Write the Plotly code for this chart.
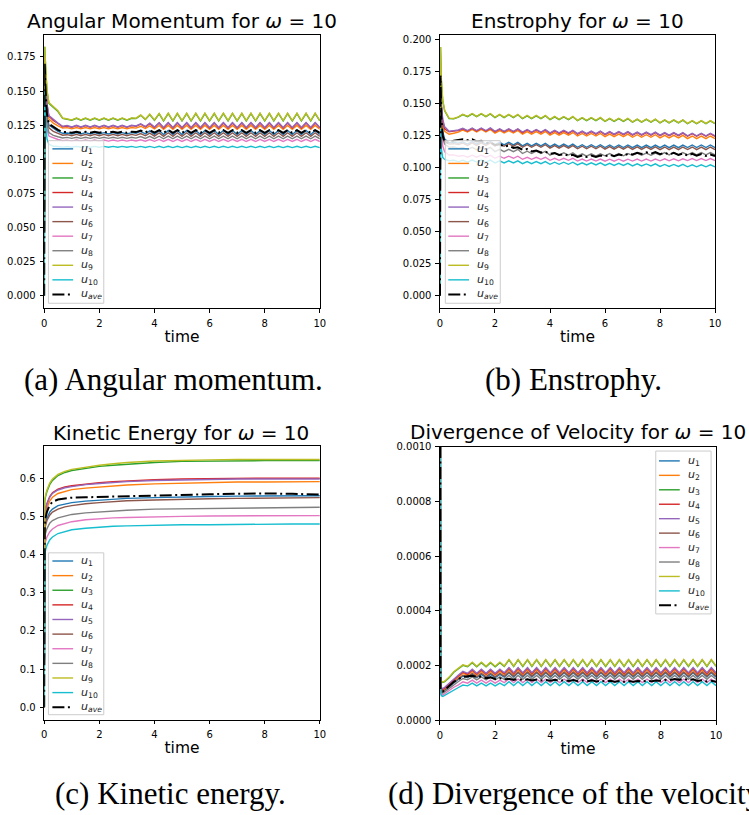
import plotly.graph_objects as go

# ---------------- data ----------------
TIME = [0, 0.02, 0.05, 0.1, 0.17, 0.33, 0.5, 0.67, 0.83, 1.0,
        1.17, 1.33, 1.5, 1.67, 1.83, 2.0, 2.17, 2.33, 2.5, 2.67,
        2.83, 3.0, 3.17, 3.33, 3.5, 3.67, 3.83, 4.0, 4.17, 4.33,
        4.5, 4.67, 4.83, 5.0, 5.17, 5.33, 5.5, 5.67, 5.83, 6.0,
        6.17, 6.33, 6.5, 6.67, 6.83, 7.0, 7.17, 7.33, 7.5, 7.67,
        7.83, 8.0, 8.17, 8.33, 8.5, 8.67, 8.83, 9.0, 9.17, 9.33,
        9.5, 9.67, 9.83, 10.0]

TIME_C = [0, 0.02, 0.05, 0.1, 0.2, 0.3, 0.5, 0.75, 1.0, 1.5, 2.0, 2.5, 3.0,
          4.0, 5.0, 6.0, 7.0, 8.0, 9.0, 10.0]

# (a) angular momentum
A_U1 = [0, 0.168, 0.150, 0.132, 0.125, 0.1225, 0.1205, 0.1190, 0.1192,
        0.1185, 0.1195, 0.1185, 0.1195, 0.1185, 0.1195, 0.1185, 0.1195, 0.1185, 0.1195, 0.1185, 0.1195, 0.1185, 0.1195,
        0.1190, 0.1204, 0.1186, 0.1208, 0.1183, 0.1210,
        0.1181, 0.1211, 0.1181, 0.1211, 0.1181, 0.1211, 0.1181, 0.1211, 0.1181, 0.1211, 0.1181, 0.1211, 0.1181, 0.1211, 0.1181, 0.1211, 0.1181, 0.1211,
        0.1181, 0.1211, 0.1181, 0.1211, 0.1181, 0.1211, 0.1181, 0.1211, 0.1181, 0.1211, 0.1181, 0.1211, 0.1181, 0.1211, 0.1181, 0.1211, 0.1181]
A_U2 = [0, 0.172, 0.155, 0.137, 0.1295, 0.1265, 0.1245, 0.1228, 0.1232,
        0.1223, 0.1233, 0.1223, 0.1233, 0.1223, 0.1233, 0.1223, 0.1233, 0.1223, 0.1233, 0.1223, 0.1233, 0.1223, 0.1233,
        0.1228, 0.1242, 0.1225, 0.1245, 0.1222, 0.1247,
        0.1220, 0.1248, 0.1220, 0.1248, 0.1220, 0.1248, 0.1220, 0.1248, 0.1220, 0.1248, 0.1220, 0.1248, 0.1220, 0.1248, 0.1220, 0.1248, 0.1220, 0.1248,
        0.1220, 0.1248, 0.1220, 0.1248, 0.1220, 0.1248, 0.1220, 0.1248, 0.1220, 0.1248, 0.1220, 0.1248, 0.1220, 0.1248, 0.1220, 0.1248, 0.1220]
A_U3 = [0, 0.1825, 0.168, 0.150, 0.141, 0.138, 0.135, 0.130, 0.1292,
        0.1286, 0.1300, 0.1286, 0.1300, 0.1286, 0.1300, 0.1286, 0.1300, 0.1286, 0.1300, 0.1286, 0.1300, 0.1286, 0.1300,
        0.1298, 0.1322, 0.1291, 0.1328, 0.1285, 0.1333,
        0.1281, 0.1335, 0.1281, 0.1335, 0.1281, 0.1335, 0.1281, 0.1335, 0.1281, 0.1335, 0.1281, 0.1335, 0.1281, 0.1335, 0.1281, 0.1335, 0.1281, 0.1335,
        0.1281, 0.1335, 0.1281, 0.1335, 0.1281, 0.1335, 0.1281, 0.1335, 0.1281, 0.1335, 0.1281, 0.1335, 0.1281, 0.1335, 0.1281, 0.1335, 0.1281]
A_U4 = [0, 0.175, 0.158, 0.140, 0.1315, 0.1285, 0.1262, 0.1238, 0.1244,
        0.1234, 0.1246, 0.1234, 0.1246, 0.1234, 0.1246, 0.1234, 0.1246, 0.1234, 0.1246, 0.1234, 0.1246, 0.1234, 0.1246,
        0.1241, 0.1257, 0.1237, 0.1261, 0.1233, 0.1265,
        0.1230, 0.1266, 0.1230, 0.1266, 0.1230, 0.1266, 0.1230, 0.1266, 0.1230, 0.1266, 0.1230, 0.1266, 0.1230, 0.1266, 0.1230, 0.1266, 0.1230, 0.1266,
        0.1230, 0.1266, 0.1230, 0.1266, 0.1230, 0.1266, 0.1230, 0.1266, 0.1230, 0.1266, 0.1230, 0.1266, 0.1230, 0.1266, 0.1230, 0.1266, 0.1230]
A_U5 = [0, 0.176, 0.159, 0.141, 0.132, 0.129, 0.1265, 0.1241, 0.1247,
        0.1237, 0.1249, 0.1237, 0.1249, 0.1237, 0.1249, 0.1237, 0.1249, 0.1237, 0.1249, 0.1237, 0.1249, 0.1237, 0.1249,
        0.1244, 0.1260, 0.1240, 0.1264, 0.1236, 0.1268,
        0.1233, 0.1269, 0.1233, 0.1269, 0.1233, 0.1269, 0.1233, 0.1269, 0.1233, 0.1269, 0.1233, 0.1269, 0.1233, 0.1269, 0.1233, 0.1269, 0.1233, 0.1269,
        0.1233, 0.1269, 0.1233, 0.1269, 0.1233, 0.1269, 0.1233, 0.1269, 0.1233, 0.1269, 0.1233, 0.1269, 0.1233, 0.1269, 0.1233, 0.1269, 0.1233]
A_U6 = [0, 0.165, 0.147, 0.130, 0.123, 0.1205, 0.1190, 0.1176, 0.1180,
        0.1172, 0.1182, 0.1172, 0.1182, 0.1172, 0.1182, 0.1172, 0.1182, 0.1172, 0.1182, 0.1172, 0.1182, 0.1172, 0.1182,
        0.1175, 0.1188, 0.1172, 0.1191, 0.1170, 0.1193,
        0.1168, 0.1194, 0.1168, 0.1194, 0.1168, 0.1194, 0.1168, 0.1194, 0.1168, 0.1194, 0.1168, 0.1194, 0.1168, 0.1194, 0.1168, 0.1194, 0.1168, 0.1194,
        0.1168, 0.1194, 0.1168, 0.1194, 0.1168, 0.1194, 0.1168, 0.1194, 0.1168, 0.1194, 0.1168, 0.1194, 0.1168, 0.1194, 0.1168, 0.1194, 0.1168]
A_U7 = [0, 0.158, 0.138, 0.122, 0.117, 0.1155, 0.1145, 0.1136, 0.1140,
        0.1133, 0.1141, 0.1133, 0.1141, 0.1133, 0.1141, 0.1133, 0.1141, 0.1133, 0.1141, 0.1133, 0.1141, 0.1133, 0.1141,
        0.1134, 0.1143, 0.1132, 0.1144, 0.1131, 0.1145,
        0.1130, 0.1146, 0.1130, 0.1146, 0.1130, 0.1146, 0.1130, 0.1146, 0.1130, 0.1146, 0.1130, 0.1146, 0.1130, 0.1146, 0.1130, 0.1146, 0.1130, 0.1146,
        0.1130, 0.1146, 0.1130, 0.1146, 0.1130, 0.1146, 0.1130, 0.1146, 0.1130, 0.1146, 0.1130, 0.1146, 0.1130, 0.1146, 0.1130, 0.1146, 0.1130]
A_U8 = [0, 0.162, 0.143, 0.126, 0.1195, 0.1175, 0.1165, 0.1156, 0.1160,
        0.1153, 0.1161, 0.1153, 0.1161, 0.1153, 0.1161, 0.1153, 0.1161, 0.1153, 0.1161, 0.1153, 0.1161, 0.1153, 0.1161,
        0.1155, 0.1166, 0.1153, 0.1168, 0.1151, 0.1169,
        0.1150, 0.1170, 0.1150, 0.1170, 0.1150, 0.1170, 0.1150, 0.1170, 0.1150, 0.1170, 0.1150, 0.1170, 0.1150, 0.1170, 0.1150, 0.1170, 0.1150, 0.1170,
        0.1150, 0.1170, 0.1150, 0.1170, 0.1150, 0.1170, 0.1150, 0.1170, 0.1150, 0.1170, 0.1150, 0.1170, 0.1150, 0.1170, 0.1150, 0.1170, 0.1150]
A_U9 = [0, 0.1825, 0.169, 0.151, 0.1415, 0.1385, 0.1355, 0.1302, 0.1295,
        0.1289, 0.1303, 0.1289, 0.1303, 0.1289, 0.1303, 0.1289, 0.1303, 0.1289, 0.1303, 0.1289, 0.1303, 0.1289, 0.1303,
        0.1301, 0.1325, 0.1294, 0.1331, 0.1288, 0.1336,
        0.1284, 0.1338, 0.1284, 0.1338, 0.1284, 0.1338, 0.1284, 0.1338, 0.1284, 0.1338, 0.1284, 0.1338, 0.1284, 0.1338, 0.1284, 0.1338, 0.1284, 0.1338,
        0.1284, 0.1338, 0.1284, 0.1338, 0.1284, 0.1338, 0.1284, 0.1338, 0.1284, 0.1338, 0.1284, 0.1338, 0.1284, 0.1338, 0.1284, 0.1338, 0.1284]
A_U10 = [0, 0.150, 0.128, 0.115, 0.111, 0.1095, 0.1093, 0.1089, 0.1093,
         0.1088, 0.1094, 0.1088, 0.1094, 0.1088, 0.1094, 0.1088, 0.1094, 0.1088, 0.1094, 0.1088, 0.1094, 0.1088, 0.1094,
         0.1087, 0.1094, 0.1086, 0.1094, 0.1085, 0.1095,
         0.1085, 0.1095, 0.1085, 0.1095, 0.1085, 0.1095, 0.1085, 0.1095, 0.1085, 0.1095, 0.1085, 0.1095, 0.1085, 0.1095, 0.1085, 0.1095, 0.1085, 0.1095,
         0.1085, 0.1095, 0.1085, 0.1095, 0.1085, 0.1095, 0.1085, 0.1095, 0.1085, 0.1095, 0.1085, 0.1095, 0.1085, 0.1095, 0.1085, 0.1095, 0.1085]
A_AVE = [0, 0.170, 0.150, 0.133, 0.126, 0.1235, 0.1215, 0.1200, 0.1200,
         0.1194, 0.1202, 0.1194, 0.1202, 0.1194, 0.1202, 0.1194, 0.1202, 0.1194, 0.1202, 0.1194, 0.1202, 0.1194, 0.1202,
         0.1199, 0.1210, 0.1197, 0.1212, 0.1195, 0.1213,
         0.1194, 0.1214, 0.1194, 0.1214, 0.1194, 0.1214, 0.1194, 0.1214, 0.1194, 0.1214, 0.1194, 0.1214, 0.1194, 0.1214, 0.1194, 0.1214, 0.1194, 0.1214,
         0.1194, 0.1214, 0.1194, 0.1214, 0.1194, 0.1214, 0.1194, 0.1214, 0.1194, 0.1214, 0.1194, 0.1214, 0.1194, 0.1214, 0.1194, 0.1214, 0.1194]

# (b) enstrophy
B_U1 = [0, 0.165, 0.140, 0.128, 0.1225, 0.1195, 0.1198, 0.1192, 0.1202,
        0.1185, 0.1205, 0.1185, 0.1205, 0.1185, 0.1205,
        0.1178, 0.1198, 0.1178, 0.1198, 0.1178, 0.1198,
        0.1171, 0.1191, 0.1171, 0.1191, 0.1171, 0.1191,
        0.1165, 0.1185, 0.1165, 0.1185, 0.1165, 0.1185,
        0.1160, 0.1180, 0.1160, 0.1180, 0.1160, 0.1180,
        0.1158, 0.1178, 0.1158, 0.1178, 0.1158, 0.1178,
        0.1157, 0.1177, 0.1157, 0.1177, 0.1157, 0.1177,
        0.1157, 0.1177, 0.1157, 0.1177, 0.1157, 0.1177,
        0.1158, 0.1178, 0.1158, 0.1178, 0.1158, 0.1178, 0.1158]
B_U2 = [0, 0.170, 0.146, 0.134, 0.1285, 0.1262, 0.1270, 0.1278, 0.1295,
        0.1279, 0.1299, 0.1279, 0.1299, 0.1279, 0.1299,
        0.1271, 0.1291, 0.1271, 0.1291, 0.1271, 0.1291,
        0.1263, 0.1283, 0.1263, 0.1283, 0.1263, 0.1283,
        0.1255, 0.1275, 0.1255, 0.1275, 0.1255, 0.1275,
        0.1248, 0.1268, 0.1248, 0.1268, 0.1248, 0.1268,
        0.1243, 0.1263, 0.1243, 0.1263, 0.1243, 0.1263,
        0.1238, 0.1258, 0.1238, 0.1258, 0.1238, 0.1258,
        0.1233, 0.1253, 0.1233, 0.1253, 0.1233, 0.1253,
        0.1228, 0.1248, 0.1228, 0.1248, 0.1228, 0.1248, 0.1228]
B_U3 = [0, 0.1943, 0.168, 0.152, 0.1445, 0.1385, 0.1382, 0.1395, 0.1415,
        0.1399, 0.1421, 0.1399, 0.1421, 0.1399, 0.1421,
        0.1392, 0.1414, 0.1392, 0.1414, 0.1392, 0.1414,
        0.1384, 0.1406, 0.1384, 0.1406, 0.1384, 0.1406,
        0.1376, 0.1398, 0.1376, 0.1398, 0.1376, 0.1398,
        0.1368, 0.1390, 0.1368, 0.1390, 0.1368, 0.1390,
        0.1362, 0.1384, 0.1362, 0.1384, 0.1362, 0.1384,
        0.1356, 0.1378, 0.1356, 0.1378, 0.1356, 0.1378,
        0.1350, 0.1372, 0.1350, 0.1372, 0.1350, 0.1372,
        0.1344, 0.1366, 0.1344, 0.1366, 0.1344, 0.1366, 0.1344]
B_U4 = [0, 0.173, 0.148, 0.136, 0.1305, 0.1281, 0.1286, 0.1291, 0.1304,
        0.1287, 0.1307, 0.1287, 0.1307, 0.1287, 0.1307,
        0.1281, 0.1301, 0.1281, 0.1301, 0.1281, 0.1301,
        0.1275, 0.1295, 0.1275, 0.1295, 0.1275, 0.1295,
        0.1269, 0.1289, 0.1269, 0.1289, 0.1269, 0.1289,
        0.1263, 0.1283, 0.1263, 0.1283, 0.1263, 0.1283,
        0.1259, 0.1279, 0.1259, 0.1279, 0.1259, 0.1279,
        0.1255, 0.1275, 0.1255, 0.1275, 0.1255, 0.1275,
        0.1251, 0.1271, 0.1251, 0.1271, 0.1251, 0.1271,
        0.1246, 0.1266, 0.1246, 0.1266, 0.1246, 0.1266, 0.1246]
B_U5 = [0, 0.175, 0.150, 0.138, 0.132, 0.1285, 0.1290, 0.1295, 0.1308,
        0.1291, 0.1311, 0.1291, 0.1311, 0.1291, 0.1311,
        0.1285, 0.1305, 0.1285, 0.1305, 0.1285, 0.1305,
        0.1279, 0.1299, 0.1279, 0.1299, 0.1279, 0.1299,
        0.1273, 0.1293, 0.1273, 0.1293, 0.1273, 0.1293,
        0.1267, 0.1287, 0.1267, 0.1287, 0.1267, 0.1287,
        0.1263, 0.1283, 0.1263, 0.1283, 0.1263, 0.1283,
        0.1259, 0.1279, 0.1259, 0.1279, 0.1259, 0.1279,
        0.1255, 0.1275, 0.1255, 0.1275, 0.1255, 0.1275,
        0.1250, 0.1270, 0.1250, 0.1270, 0.1250, 0.1270, 0.1250]
B_U6 = [0, 0.162, 0.138, 0.126, 0.1210, 0.1185, 0.1188, 0.1182, 0.1192,
        0.1175, 0.1195, 0.1175, 0.1195, 0.1175, 0.1195,
        0.1168, 0.1188, 0.1168, 0.1188, 0.1168, 0.1188,
        0.1160, 0.1180, 0.1160, 0.1180, 0.1160, 0.1180,
        0.1153, 0.1173, 0.1153, 0.1173, 0.1153, 0.1173,
        0.1148, 0.1168, 0.1148, 0.1168, 0.1148, 0.1168,
        0.1145, 0.1165, 0.1145, 0.1165, 0.1145, 0.1165,
        0.1143, 0.1163, 0.1143, 0.1163, 0.1143, 0.1163,
        0.1142, 0.1162, 0.1142, 0.1162, 0.1142, 0.1162,
        0.1142, 0.1162, 0.1142, 0.1162, 0.1142, 0.1162, 0.1142]
B_U7 = [0, 0.150, 0.128, 0.117, 0.1125, 0.1100, 0.1100, 0.1090, 0.1096,
        0.1082, 0.1098, 0.1082, 0.1098, 0.1082, 0.1098,
        0.1074, 0.1090, 0.1074, 0.1090, 0.1074, 0.1090,
        0.1066, 0.1082, 0.1066, 0.1082, 0.1066, 0.1082,
        0.1058, 0.1074, 0.1058, 0.1074, 0.1058, 0.1074,
        0.1052, 0.1068, 0.1052, 0.1068, 0.1052, 0.1068,
        0.1051, 0.1067, 0.1051, 0.1067, 0.1051, 0.1067,
        0.1052, 0.1068, 0.1052, 0.1068, 0.1052, 0.1068,
        0.1054, 0.1070, 0.1054, 0.1070, 0.1054, 0.1070,
        0.1056, 0.1072, 0.1056, 0.1072, 0.1056, 0.1072, 0.1056]
B_U8 = [0, 0.158, 0.134, 0.123, 0.1185, 0.1160, 0.1162, 0.1152, 0.1158,
        0.1141, 0.1159, 0.1141, 0.1159, 0.1141, 0.1159,
        0.1126, 0.1144, 0.1126, 0.1144, 0.1126, 0.1144,
        0.1111, 0.1129, 0.1111, 0.1129, 0.1111, 0.1129,
        0.1099, 0.1117, 0.1099, 0.1117, 0.1099, 0.1117,
        0.1091, 0.1109, 0.1091, 0.1109, 0.1091, 0.1109,
        0.1093, 0.1111, 0.1093, 0.1111, 0.1093, 0.1111,
        0.1097, 0.1115, 0.1097, 0.1115, 0.1097, 0.1115,
        0.1100, 0.1118, 0.1100, 0.1118, 0.1100, 0.1118,
        0.1101, 0.1119, 0.1101, 0.1119, 0.1101, 0.1119, 0.1101]
B_U9 = [0, 0.1943, 0.169, 0.153, 0.1448, 0.1388, 0.1385, 0.1398, 0.1418,
        0.1402, 0.1424, 0.1402, 0.1424, 0.1402, 0.1424,
        0.1395, 0.1417, 0.1395, 0.1417, 0.1395, 0.1417,
        0.1387, 0.1409, 0.1387, 0.1409, 0.1387, 0.1409,
        0.1379, 0.1401, 0.1379, 0.1401, 0.1379, 0.1401,
        0.1371, 0.1393, 0.1371, 0.1393, 0.1371, 0.1393,
        0.1365, 0.1387, 0.1365, 0.1387, 0.1365, 0.1387,
        0.1359, 0.1381, 0.1359, 0.1381, 0.1359, 0.1381,
        0.1353, 0.1375, 0.1353, 0.1375, 0.1353, 0.1375,
        0.1347, 0.1369, 0.1347, 0.1369, 0.1347, 0.1369, 0.1347]
B_U10 = [0, 0.130, 0.115, 0.108, 0.1065, 0.1055, 0.1058, 0.1048, 0.1058,
         0.1044, 0.1060, 0.1044, 0.1060, 0.1044, 0.1060,
         0.1038, 0.1054, 0.1038, 0.1054, 0.1038, 0.1054,
         0.1032, 0.1048, 0.1032, 0.1048, 0.1032, 0.1048,
         0.1027, 0.1043, 0.1027, 0.1043, 0.1027, 0.1043,
         0.1022, 0.1038, 0.1022, 0.1038, 0.1022, 0.1038,
         0.1018, 0.1034, 0.1018, 0.1034, 0.1018, 0.1034,
         0.1014, 0.1030, 0.1014, 0.1030, 0.1014, 0.1030,
         0.1010, 0.1026, 0.1010, 0.1026, 0.1010, 0.1026,
         0.1007, 0.1023, 0.1007, 0.1023, 0.1007, 0.1023, 0.1007]
B_AVE = [0, 0.172, 0.140, 0.125, 0.1200, 0.1195, 0.1212, 0.1220, 0.1222,
         0.1215, 0.1222, 0.1205, 0.1210, 0.1192, 0.1198,
         0.1178, 0.1184, 0.1166, 0.1172, 0.1155, 0.1160,
         0.1140, 0.1146, 0.1128, 0.1134, 0.1120, 0.1126,
         0.1108, 0.1114, 0.1100, 0.1106, 0.1095, 0.1101,
         0.1084, 0.1096, 0.1084, 0.1096, 0.1084, 0.1096,
         0.1089, 0.1101, 0.1091, 0.1103, 0.1095, 0.1107,
         0.1104, 0.1116, 0.1108, 0.1120, 0.1110, 0.1122,
         0.1106, 0.1118, 0.1104, 0.1116, 0.1100, 0.1112,
         0.1096, 0.1108, 0.1094, 0.1106, 0.1092, 0.1104, 0.1092]

# (c) kinetic energy
C_U1 = [0, 0.470, 0.482, 0.495, 0.511, 0.519, 0.528, 0.533, 0.536, 0.540, 0.543, 0.545, 0.547, 0.549, 0.551, 0.552, 0.553, 0.553, 0.554, 0.554]
C_U2 = [0, 0.495, 0.508, 0.522, 0.540, 0.550, 0.560, 0.566, 0.570, 0.574, 0.577, 0.580, 0.582, 0.585, 0.587, 0.589, 0.590, 0.590, 0.591, 0.591]
C_U3 = [0, 0.540, 0.552, 0.565, 0.583, 0.594, 0.607, 0.615, 0.620, 0.626, 0.631, 0.634, 0.637, 0.641, 0.644, 0.645, 0.646, 0.646, 0.646, 0.646]
C_U4 = [0, 0.507, 0.520, 0.534, 0.552, 0.562, 0.571, 0.577, 0.580, 0.585, 0.588, 0.591, 0.593, 0.596, 0.598, 0.599, 0.600, 0.600, 0.600, 0.600]
C_U5 = [0, 0.505, 0.518, 0.532, 0.550, 0.560, 0.569, 0.575, 0.578, 0.583, 0.586, 0.589, 0.591, 0.594, 0.596, 0.597, 0.598, 0.598, 0.598, 0.598]
C_U6 = [0, 0.465, 0.476, 0.489, 0.503, 0.511, 0.519, 0.525, 0.528, 0.533, 0.536, 0.539, 0.541, 0.543, 0.545, 0.546, 0.547, 0.548, 0.548, 0.549]
C_U7 = [0, 0.425, 0.435, 0.446, 0.459, 0.467, 0.476, 0.482, 0.486, 0.491, 0.494, 0.496, 0.497, 0.499, 0.500, 0.501, 0.501, 0.502, 0.502, 0.502]
C_U8 = [0, 0.445, 0.456, 0.468, 0.482, 0.489, 0.496, 0.501, 0.505, 0.509, 0.512, 0.514, 0.516, 0.519, 0.520, 0.521, 0.522, 0.523, 0.523, 0.524]
C_U9 = [0, 0.545, 0.556, 0.569, 0.587, 0.598, 0.610, 0.618, 0.623, 0.629, 0.634, 0.638, 0.641, 0.645, 0.647, 0.648, 0.649, 0.649, 0.649, 0.649]
C_U10 = [0, 0.400, 0.412, 0.424, 0.438, 0.446, 0.455, 0.461, 0.465, 0.469, 0.472, 0.474, 0.475, 0.477, 0.478, 0.478, 0.479, 0.479, 0.480, 0.480]
C_AVE = [0, 0.480, 0.496, 0.512, 0.530, 0.538, 0.544, 0.547, 0.549, 0.550, 0.551, 0.552, 0.553, 0.555, 0.557, 0.558, 0.559, 0.560, 0.559, 0.557]

# (d) divergence of velocity
D_U1 = [3e-3, 1.18e-4, 1.06e-4, 1.03e-4, 1.08e-4, 1.22e-4, 1.37e-4, 1.49e-4, 1.61e-4,
        1.55e-4, 1.67e-4, 1.55e-4, 1.67e-4, 1.55e-4, 1.67e-4, 1.55e-4, 1.67e-4,
        1.57e-4, 1.73e-4, 1.57e-4, 1.73e-4, 1.57e-4, 1.73e-4, 1.57e-4, 1.73e-4, 1.57e-4, 1.73e-4, 1.57e-4, 1.73e-4,
        1.57e-4, 1.73e-4, 1.57e-4, 1.73e-4, 1.57e-4, 1.73e-4, 1.57e-4, 1.73e-4, 1.57e-4, 1.73e-4, 1.57e-4, 1.73e-4,
        1.57e-4, 1.73e-4, 1.57e-4, 1.73e-4, 1.57e-4, 1.73e-4, 1.57e-4, 1.73e-4, 1.57e-4, 1.73e-4, 1.57e-4, 1.73e-4,
        1.57e-4, 1.73e-4, 1.57e-4, 1.73e-4, 1.57e-4, 1.73e-4, 1.57e-4, 1.73e-4, 1.57e-4, 1.73e-4, 1.57e-4]
D_U2 = [3e-3, 1.24e-4, 1.12e-4, 1.09e-4, 1.14e-4, 1.29e-4, 1.45e-4, 1.58e-4, 1.71e-4,
        1.64e-4, 1.78e-4, 1.64e-4, 1.78e-4, 1.64e-4, 1.78e-4, 1.64e-4, 1.78e-4,
        1.66e-4, 1.84e-4, 1.66e-4, 1.84e-4, 1.66e-4, 1.84e-4, 1.66e-4, 1.84e-4, 1.66e-4, 1.84e-4, 1.66e-4, 1.84e-4,
        1.66e-4, 1.84e-4, 1.66e-4, 1.84e-4, 1.66e-4, 1.84e-4, 1.66e-4, 1.84e-4, 1.66e-4, 1.84e-4, 1.66e-4, 1.84e-4,
        1.66e-4, 1.84e-4, 1.66e-4, 1.84e-4, 1.66e-4, 1.84e-4, 1.66e-4, 1.84e-4, 1.66e-4, 1.84e-4, 1.66e-4, 1.84e-4,
        1.66e-4, 1.84e-4, 1.66e-4, 1.84e-4, 1.66e-4, 1.84e-4, 1.66e-4, 1.84e-4, 1.66e-4, 1.84e-4, 1.66e-4]
D_U3 = [3e-3, 1.50e-4, 1.40e-4, 1.37e-4, 1.40e-4, 1.55e-4, 1.75e-4, 1.88e-4, 2.00e-4,
        1.95e-4, 2.10e-4, 1.95e-4, 2.10e-4, 1.95e-4, 2.10e-4, 1.95e-4, 2.10e-4,
        1.96e-4, 2.20e-4, 1.96e-4, 2.20e-4, 1.96e-4, 2.20e-4, 1.96e-4, 2.20e-4, 1.96e-4, 2.20e-4, 1.96e-4, 2.20e-4,
        1.96e-4, 2.20e-4, 1.96e-4, 2.20e-4, 1.96e-4, 2.20e-4, 1.96e-4, 2.20e-4, 1.96e-4, 2.20e-4, 1.96e-4, 2.20e-4,
        1.96e-4, 2.20e-4, 1.96e-4, 2.20e-4, 1.96e-4, 2.20e-4, 1.96e-4, 2.20e-4, 1.96e-4, 2.20e-4, 1.96e-4, 2.20e-4,
        1.96e-4, 2.20e-4, 1.96e-4, 2.20e-4, 1.96e-4, 2.20e-4, 1.96e-4, 2.20e-4, 1.96e-4, 2.20e-4, 1.96e-4]
D_U4 = [3e-3, 1.27e-4, 1.15e-4, 1.12e-4, 1.17e-4, 1.32e-4, 1.49e-4, 1.62e-4, 1.75e-4,
        1.68e-4, 1.83e-4, 1.68e-4, 1.83e-4, 1.68e-4, 1.83e-4, 1.68e-4, 1.83e-4,
        1.70e-4, 1.89e-4, 1.70e-4, 1.89e-4, 1.70e-4, 1.89e-4, 1.70e-4, 1.89e-4, 1.70e-4, 1.89e-4, 1.70e-4, 1.89e-4,
        1.70e-4, 1.89e-4, 1.70e-4, 1.89e-4, 1.70e-4, 1.89e-4, 1.70e-4, 1.89e-4, 1.70e-4, 1.89e-4, 1.70e-4, 1.89e-4,
        1.70e-4, 1.89e-4, 1.70e-4, 1.89e-4, 1.70e-4, 1.89e-4, 1.70e-4, 1.89e-4, 1.70e-4, 1.89e-4, 1.70e-4, 1.89e-4,
        1.70e-4, 1.89e-4, 1.70e-4, 1.89e-4, 1.70e-4, 1.89e-4, 1.70e-4, 1.89e-4, 1.70e-4, 1.89e-4, 1.70e-4]
D_U5 = [3e-3, 1.30e-4, 1.18e-4, 1.15e-4, 1.20e-4, 1.35e-4, 1.52e-4, 1.65e-4, 1.78e-4,
        1.71e-4, 1.86e-4, 1.71e-4, 1.86e-4, 1.71e-4, 1.86e-4, 1.71e-4, 1.86e-4,
        1.73e-4, 1.92e-4, 1.73e-4, 1.92e-4, 1.73e-4, 1.92e-4, 1.73e-4, 1.92e-4, 1.73e-4, 1.92e-4, 1.73e-4, 1.92e-4,
        1.73e-4, 1.92e-4, 1.73e-4, 1.92e-4, 1.73e-4, 1.92e-4, 1.73e-4, 1.92e-4, 1.73e-4, 1.92e-4, 1.73e-4, 1.92e-4,
        1.73e-4, 1.92e-4, 1.73e-4, 1.92e-4, 1.73e-4, 1.92e-4, 1.73e-4, 1.92e-4, 1.73e-4, 1.92e-4, 1.73e-4, 1.92e-4,
        1.73e-4, 1.92e-4, 1.73e-4, 1.92e-4, 1.73e-4, 1.92e-4, 1.73e-4, 1.92e-4, 1.73e-4, 1.92e-4, 1.73e-4]
D_U6 = [3e-3, 1.20e-4, 1.08e-4, 1.05e-4, 1.10e-4, 1.24e-4, 1.40e-4, 1.52e-4, 1.64e-4,
        1.58e-4, 1.71e-4, 1.58e-4, 1.71e-4, 1.58e-4, 1.71e-4, 1.58e-4, 1.71e-4,
        1.60e-4, 1.76e-4, 1.60e-4, 1.76e-4, 1.60e-4, 1.76e-4, 1.60e-4, 1.76e-4, 1.60e-4, 1.76e-4, 1.60e-4, 1.76e-4,
        1.60e-4, 1.76e-4, 1.60e-4, 1.76e-4, 1.60e-4, 1.76e-4, 1.60e-4, 1.76e-4, 1.60e-4, 1.76e-4, 1.60e-4, 1.76e-4,
        1.60e-4, 1.76e-4, 1.60e-4, 1.76e-4, 1.60e-4, 1.76e-4, 1.60e-4, 1.76e-4, 1.60e-4, 1.76e-4, 1.60e-4, 1.76e-4,
        1.60e-4, 1.76e-4, 1.60e-4, 1.76e-4, 1.60e-4, 1.76e-4, 1.60e-4, 1.76e-4, 1.60e-4, 1.76e-4, 1.60e-4]
D_U7 = [3e-3, 1.04e-4, 0.94e-4, 0.91e-4, 0.96e-4, 1.08e-4, 1.20e-4, 1.29e-4, 1.40e-4,
        1.35e-4, 1.46e-4, 1.35e-4, 1.46e-4, 1.35e-4, 1.46e-4, 1.35e-4, 1.46e-4,
        1.37e-4, 1.50e-4, 1.37e-4, 1.50e-4, 1.37e-4, 1.50e-4, 1.37e-4, 1.50e-4, 1.37e-4, 1.50e-4, 1.37e-4, 1.50e-4,
        1.37e-4, 1.50e-4, 1.37e-4, 1.50e-4, 1.37e-4, 1.50e-4, 1.37e-4, 1.50e-4, 1.37e-4, 1.50e-4, 1.37e-4, 1.50e-4,
        1.37e-4, 1.50e-4, 1.37e-4, 1.50e-4, 1.37e-4, 1.50e-4, 1.37e-4, 1.50e-4, 1.37e-4, 1.50e-4, 1.37e-4, 1.50e-4,
        1.37e-4, 1.50e-4, 1.37e-4, 1.50e-4, 1.37e-4, 1.50e-4, 1.37e-4, 1.50e-4, 1.37e-4, 1.50e-4, 1.37e-4]
D_U8 = [3e-3, 1.12e-4, 1.01e-4, 0.98e-4, 1.03e-4, 1.16e-4, 1.30e-4, 1.41e-4, 1.52e-4,
        1.47e-4, 1.58e-4, 1.47e-4, 1.58e-4, 1.47e-4, 1.58e-4, 1.47e-4, 1.58e-4,
        1.49e-4, 1.63e-4, 1.49e-4, 1.63e-4, 1.49e-4, 1.63e-4, 1.49e-4, 1.63e-4, 1.49e-4, 1.63e-4, 1.49e-4, 1.63e-4,
        1.49e-4, 1.63e-4, 1.49e-4, 1.63e-4, 1.49e-4, 1.63e-4, 1.49e-4, 1.63e-4, 1.49e-4, 1.63e-4, 1.49e-4, 1.63e-4,
        1.49e-4, 1.63e-4, 1.49e-4, 1.63e-4, 1.49e-4, 1.63e-4, 1.49e-4, 1.63e-4, 1.49e-4, 1.63e-4, 1.49e-4, 1.63e-4,
        1.49e-4, 1.63e-4, 1.49e-4, 1.63e-4, 1.49e-4, 1.63e-4, 1.49e-4, 1.63e-4, 1.49e-4, 1.63e-4, 1.49e-4]
D_U9 = [3e-3, 1.52e-4, 1.42e-4, 1.39e-4, 1.42e-4, 1.57e-4, 1.77e-4, 1.90e-4, 2.02e-4,
        1.97e-4, 2.12e-4, 1.97e-4, 2.12e-4, 1.97e-4, 2.12e-4, 1.97e-4, 2.12e-4,
        1.98e-4, 2.22e-4, 1.98e-4, 2.22e-4, 1.98e-4, 2.22e-4, 1.98e-4, 2.22e-4, 1.98e-4, 2.22e-4, 1.98e-4, 2.22e-4,
        1.98e-4, 2.22e-4, 1.98e-4, 2.22e-4, 1.98e-4, 2.22e-4, 1.98e-4, 2.22e-4, 1.98e-4, 2.22e-4, 1.98e-4, 2.22e-4,
        1.98e-4, 2.22e-4, 1.98e-4, 2.22e-4, 1.98e-4, 2.22e-4, 1.98e-4, 2.22e-4, 1.98e-4, 2.22e-4, 1.98e-4, 2.22e-4,
        1.98e-4, 2.22e-4, 1.98e-4, 2.22e-4, 1.98e-4, 2.22e-4, 1.98e-4, 2.22e-4, 1.98e-4, 2.22e-4, 1.98e-4]
D_U10 = [3e-3, 0.98e-4, 0.89e-4, 0.86e-4, 0.90e-4, 1.00e-4, 1.11e-4, 1.19e-4, 1.28e-4,
         1.25e-4, 1.35e-4, 1.25e-4, 1.35e-4, 1.25e-4, 1.35e-4, 1.25e-4, 1.35e-4,
         1.26e-4, 1.40e-4, 1.26e-4, 1.40e-4, 1.26e-4, 1.40e-4, 1.26e-4, 1.40e-4, 1.26e-4, 1.40e-4, 1.26e-4, 1.40e-4,
         1.26e-4, 1.40e-4, 1.26e-4, 1.40e-4, 1.26e-4, 1.40e-4, 1.26e-4, 1.40e-4, 1.26e-4, 1.40e-4, 1.26e-4, 1.40e-4,
         1.26e-4, 1.40e-4, 1.26e-4, 1.40e-4, 1.26e-4, 1.40e-4, 1.26e-4, 1.40e-4, 1.26e-4, 1.40e-4, 1.26e-4, 1.40e-4,
         1.26e-4, 1.40e-4, 1.26e-4, 1.40e-4, 1.26e-4, 1.40e-4, 1.26e-4, 1.40e-4, 1.26e-4, 1.40e-4, 1.26e-4]
D_AVE = [3e-3, 1.12e-4, 1.05e-4, 1.04e-4, 1.10e-4, 1.25e-4, 1.40e-4, 1.50e-4, 1.58e-4,
         1.60e-4, 1.62e-4, 1.57e-4, 1.59e-4, 1.53e-4, 1.56e-4, 1.50e-4, 1.53e-4,
         1.48e-4, 1.51e-4, 1.47e-4, 1.50e-4, 1.46e-4, 1.49e-4, 1.45e-4, 1.48e-4, 1.45e-4, 1.47e-4, 1.44e-4, 1.47e-4,
         1.43e-4, 1.46e-4, 1.43e-4, 1.46e-4, 1.42e-4, 1.45e-4, 1.42e-4, 1.45e-4, 1.41e-4, 1.44e-4, 1.41e-4, 1.44e-4,
         1.40e-4, 1.43e-4, 1.40e-4, 1.43e-4, 1.40e-4, 1.43e-4, 1.41e-4, 1.44e-4, 1.42e-4, 1.45e-4, 1.44e-4, 1.47e-4,
         1.46e-4, 1.50e-4, 1.47e-4, 1.51e-4, 1.46e-4, 1.49e-4, 1.43e-4, 1.46e-4, 1.41e-4, 1.44e-4, 1.40e-4]

SERIES_LABELS = ['<i>u</i><sub>1</sub>', '<i>u</i><sub>2</sub>', '<i>u</i><sub>3</sub>',
                 '<i>u</i><sub>4</sub>', '<i>u</i><sub>5</sub>', '<i>u</i><sub>6</sub>',
                 '<i>u</i><sub>7</sub>', '<i>u</i><sub>8</sub>', '<i>u</i><sub>9</sub>',
                 '<i>u</i><sub>10</sub>', '<i>u</i><sub><i>ave</i></sub>']

X_TICKS = [0, 2, 4, 6, 8, 10]
A_YTICKS = [0, 0.025, 0.05, 0.075, 0.1, 0.125, 0.15, 0.175]
B_YTICKS = [0, 0.025, 0.05, 0.075, 0.1, 0.125, 0.15, 0.175, 0.2]
C_YTICKS = [0, 0.1, 0.2, 0.3, 0.4, 0.5, 0.6]
D_YTICKS = [0, 0.0002, 0.0004, 0.0006, 0.0008, 0.001]

TITLES = ['Angular Momentum for <i>ω</i> = 10', 'Enstrophy for <i>ω</i> = 10',
          'Kinetic Energy for <i>ω</i> = 10', 'Divergence of Velocity for <i>ω</i> = 10']
CAPTIONS = ['(a) Angular momentum.', '(b) Enstrophy.', '(c) Kinetic energy.',
            '(d) Divergence of the velocity.']

# ---------------- styling / layout ----------------
COLORS = ['#1f77b4', '#ff7f0e', '#2ca02c', '#d62728', '#9467bd',
          '#8c564b', '#e377c2', '#7f7f7f', '#bcbd22', '#17becf']
W, H = 749, 815


def fx(p):
    return p / W


def fy(p):
    return 1 - p / H


panels = [
    dict(t=TIME, u=[A_U1, A_U2, A_U3, A_U4, A_U5, A_U6, A_U7, A_U8, A_U9, A_U10], ave=A_AVE,
         xa='x', ya='y', xdom=(41.7, 320.7), ydom=(306.7, 29), yr=[-0.0092, 0.1914],
         ticks=A_YTICKS, fmt='.3f', title_xy=(181.2, 15.5),
         leg=dict(box=(46, 102, 136.7, 301.7), l0=50, l1=71, tx=77, y0=145, dy=14.77),
         cap_xy=(172.5, 379), cap_anchor='center'),
    dict(t=TIME, u=[B_U1, B_U2, B_U3, B_U4, B_U5, B_U6, B_U7, B_U8, B_U9, B_U10], ave=B_AVE,
         xa='x2', ya='y2', xdom=(442.3, 720.7), ydom=(306.7, 29), yr=[-0.0098, 0.2041],
         ticks=B_YTICKS, fmt='.3f', title_xy=(581.6, 15.5),
         leg=dict(box=(447.7, 503.3, 136.7, 301.7), l0=450.7, l1=471.7, tx=478, y0=145, dy=14.77),
         cap_xy=(577.5, 379), cap_anchor='center'),
    dict(t=TIME_C, u=[C_U1, C_U2, C_U3, C_U4, C_U5, C_U6, C_U7, C_U8, C_U9, C_U10], ave=C_AVE,
         xa='x3', ya='y3', xdom=(41.7, 320.7), ydom=(724.3, 446.7), yr=[-0.0326, 0.684],
         ticks=C_YTICKS, fmt='.1f', title_xy=(180.5, 433.5),
         leg=dict(box=(46, 102, 555, 719.3), l0=50, l1=71, tx=77, y0=563.3, dy=14.84),
         cap_xy=(170, 799), cap_anchor='center'),
    dict(t=TIME, u=[D_U1, D_U2, D_U3, D_U4, D_U5, D_U6, D_U7, D_U8, D_U9, D_U10], ave=D_AVE,
         xa='x4', ya='y4', xdom=(442.3, 721.7), ydom=(724.7, 447.3), yr=[0, 0.001],
         ticks=D_YTICKS, fmt='.4f', title_xy=(581.5, 432.5),
         leg=dict(box=(660.7, 716.7, 451.7, 617), l0=664, l1=685, tx=691.5, y0=461.7, dy=14.66),
         cap_xy=(388, 799), cap_anchor='left'),
]

AVE_DASH = '12px,3.5px,2px,3.5px'

fig = go.Figure()
shapes = []
annotations = []
layout_axes = {}

for i, p in enumerate(panels):
    for arr in p['u'] + [p['ave']]:
        assert len(arr) == len(p['t']), (i, len(arr))
    for j, vals in enumerate(p['u']):
        fig.add_trace(go.Scatter(x=p['t'], y=vals, mode='lines', name=SERIES_LABELS[j],
                                 line=dict(color=COLORS[j], width=1.4),
                                 xaxis=p['xa'], yaxis=p['ya'], showlegend=False,
                                 hoverinfo='skip'))
    fig.add_trace(go.Scatter(x=p['t'], y=p['ave'], mode='lines', name=SERIES_LABELS[10],
                             line=dict(color='black', width=2, dash=AVE_DASH),
                             xaxis=p['xa'], yaxis=p['ya'], showlegend=False,
                             hoverinfo='skip'))

    n = '' if i == 0 else str(i + 1)
    common = dict(showline=True, linecolor='black', linewidth=1, mirror=True,
                  ticks='outside', ticklen=3.5, tickwidth=0.8, tickcolor='black',
                  showgrid=False, zeroline=False, ticklabelstandoff=2,
                  tickfont=dict(family='DejaVu Sans', size=10, color='black'))
    layout_axes['xaxis' + n] = dict(common, domain=[fx(p['xdom'][0]), fx(p['xdom'][1])],
                                    range=[0, 10], tickvals=X_TICKS, anchor='y' + n,
                                    title=dict(text='time', standoff=3,
                                               font=dict(family='DejaVu Sans', size=15.5, color='black')))
    layout_axes['yaxis' + n] = dict(common, domain=[fy(p['ydom'][0]), fy(p['ydom'][1])],
                                    range=p['yr'], tickvals=p['ticks'], tickformat=p['fmt'],
                                    anchor='x' + n)

    # title
    annotations.append(dict(text=TITLES[i], x=fx(p['title_xy'][0]), y=fy(p['title_xy'][1]),
                            xref='paper', yref='paper', xanchor='center', yanchor='middle',
                            showarrow=False, font=dict(family='DejaVu Sans', size=20, color='black')))
    # caption
    annotations.append(dict(text=CAPTIONS[i], x=fx(p['cap_xy'][0]), y=fy(p['cap_xy'][1]),
                            xref='paper', yref='paper', xanchor=p['cap_anchor'], yanchor='middle',
                            showarrow=False, font=dict(family='Liberation Serif', size=31, color='black')))

    # legend box (drawn like matplotlib legend)
    lg = p['leg']
    bx0, bx1, by0, by1 = lg['box']
    shapes.append(dict(type='rect', xref='paper', yref='paper', x0=fx(bx0), x1=fx(bx1),
                       y0=fy(by1), y1=fy(by0), fillcolor='rgba(255,255,255,0.8)',
                       line=dict(color='#cccccc', width=1), layer='above'))
    for j in range(11):
        ey = lg['y0'] + j * lg['dy']
        if j < 10:
            ln = dict(color=COLORS[j], width=1.4)
        else:
            ln = dict(color='black', width=2, dash=AVE_DASH)
        shapes.append(dict(type='line', xref='paper', yref='paper', x0=fx(lg['l0']), x1=fx(lg['l1']),
                           y0=fy(ey), y1=fy(ey), line=ln, layer='above'))
        annotations.append(dict(text=SERIES_LABELS[j], x=fx(lg['tx']), y=fy(ey),
                                xref='paper', yref='paper', xanchor='left', yanchor='middle',
                                showarrow=False,
                                font=dict(family='DejaVu Sans', size=11, color='#222222')))

fig.update_layout(width=W, height=H, margin=dict(l=0, r=0, t=0, b=0),
                  paper_bgcolor='white', plot_bgcolor='white', showlegend=False,
                  shapes=shapes, annotations=annotations, **layout_axes)

fig.write_html("out.html", config={'displayModeBar': False},
               post_script="document.body.style.margin='0';")
